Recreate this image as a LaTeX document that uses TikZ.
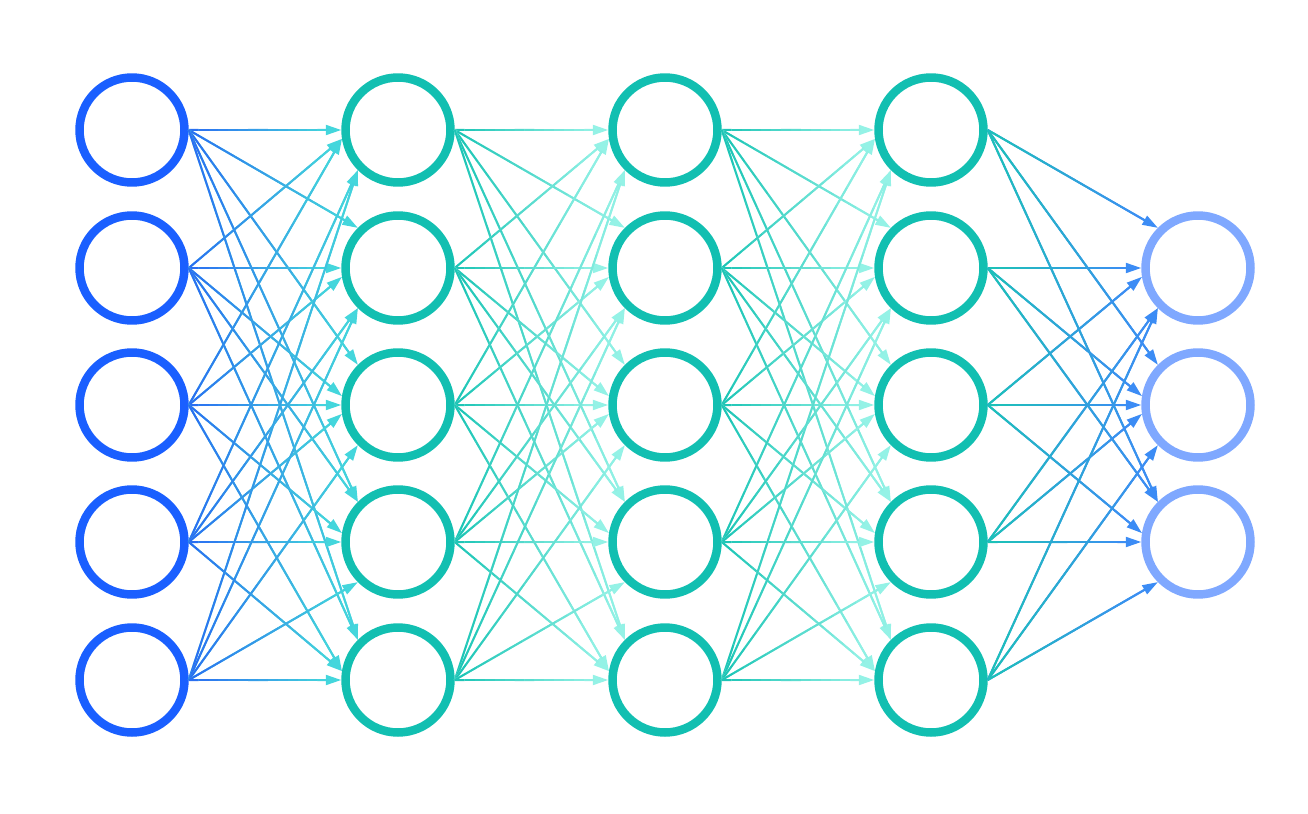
\documentclass[tikz,border=0pt]{standalone}
\usepackage{xcolor}
\usetikzlibrary{calc, arrows.meta}
\definecolor{inBlue}{HTML}{1A5FFF}
\definecolor{hidTeal}{HTML}{12BFB1}
\definecolor{outBlue}{HTML}{7FA8FF}
\definecolor{linkBlue}{HTML}{2A6CF2}
\definecolor{linkCyan}{HTML}{44D6DC}
\definecolor{linkTeal}{HTML}{1BC4B5}
\definecolor{linkAqua}{HTML}{94F2E6}
\definecolor{linkSky}{HTML}{3C8CF5}

% one connector from the east side of #1 to port #3 of #2,
% shaded from #4 to #5 in a few steps
\newcommand{\gradlink}[5]{%
  \coordinate (ls) at (#1.east);
  \coordinate (le) at (#2.#3);
  \coordinate (lm) at ($(le)!0.28cm!(ls)$);
  \draw[link, #5, -{Triangle[length=0.31cm, width=0.2cm]}] (ls) -- (le);
  \foreach \k in {1,...,14} {
    \pgfmathtruncatemacro\mixval{100*(\k-0.5)/14}
    \draw[link, color=#5!\mixval!#4] ($(ls)!{(\k-1)/14}!(lm)$) -- ($(ls)!{\k/14}!(lm)$);
  }
}
% port on the target: #1 = row step, #2 = target row (of 5)
% far sources go to the diagonal ports, near ones next to west
\newcommand{\portangle}[2]{%
  \pgfmathtruncatemacro\nup{floor(((#2)-1)/2)}%
  \pgfmathtruncatemacro\ndown{floor((5-(#2))/2)}%
  \pgfmathtruncatemacro\port{(#1)==0 ? 180 : ((#1)>0 ? ((#1)>\nup ? 135 : 171) : (-(#1)>\ndown ? 225 : 189))}%
}

\begin{document}
\begin{tikzpicture}[
        x=0.02cm, y=-0.02cm,
        neuron/.style={circle, draw=#1, line width=0.17cm, minimum size=2.1cm, inner sep=0pt},
        link/.style={line width=0.04cm}
    ]
        \useasboundingbox (0,0) rectangle (1308,814);

        % Neurons
        \foreach \r/\y in {1/130, 2/268, 3/405, 4/542, 5/680} {
            \node[neuron=inBlue] (in\r) at (132,\y) {};
            \node[neuron=hidTeal] (ha\r) at (398,\y) {};
            \node[neuron=hidTeal] (hb\r) at (665,\y) {};
            \node[neuron=hidTeal] (hc\r) at (931,\y) {};
        }
        \foreach \r/\y in {1/268, 2/405, 3/542} {
            \node[neuron=outBlue] (out\r) at (1198,\y) {};
        }

        % Connectors
        \foreach \i in {1,...,5} {
            \foreach \j in {1,...,5} {
                \portangle{\j-\i}{\j}
                \gradlink{in\i}{ha\j}{\port}{linkBlue}{linkCyan}
                \gradlink{ha\i}{hb\j}{\port}{linkTeal}{linkAqua}
                \gradlink{hb\i}{hc\j}{\port}{linkTeal}{linkAqua}
            }
            \foreach \j in {1,...,3} {
                \portangle{\j+1-\i}{\j+1}
                \gradlink{hc\i}{out\j}{\port}{linkTeal}{linkSky}
            }
        }
    \end{tikzpicture}
\end{document}
